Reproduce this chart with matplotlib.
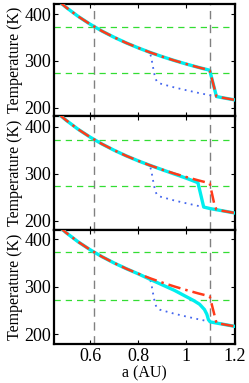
import matplotlib
matplotlib.use("Agg")
import matplotlib.pyplot as plt

plt.rcParams['font.family'] = ['Liberation Serif', 'DejaVu Serif']

# Shared branches
a_main = [0.47, 0.50, 0.55, 0.60, 0.65, 0.70, 0.75, 0.80, 0.85, 0.90, 0.95, 1.00, 1.05, 1.097]
T_main = [427.4, 414.4, 395.1, 378.3, 363.4, 350.2, 338.3, 327.6, 317.8, 308.8, 300.6, 293.0, 285.9, 279.8]
a_low = [1.125, 1.15, 1.20]
T_low = [223.6, 221.0, 216.4]

# Blue dotted (same in every panel)
a_blue = [0.47, 0.50, 0.55, 0.60, 0.65, 0.70, 0.75, 0.80, 0.848, 0.855, 0.86, 0.865, 0.87, 0.877,
          0.89, 0.90, 0.95, 1.00, 1.05, 1.10, 1.15, 1.20]
T_blue = [427.4, 414.4, 395.1, 378.3, 363.4, 350.2, 338.3, 327.6, 318.2, 305.0, 290.0, 277.0, 264.0, 256.0,
          251.5, 250.0, 243.0, 237.0, 231.3, 226.0, 221.0, 216.4]

# Panel 1
a_red1 = a_main + a_low
T_red1 = T_main + T_low
a_cyan1 = a_main + a_low
T_cyan1 = T_main + T_low

# Panel 2
a_red2 = a_main + [1.117] + a_low
T_red2 = T_main + [233.0] + T_low
a_cyan2 = [0.47, 0.50, 0.55, 0.60, 0.65, 0.70, 0.75, 0.80, 0.85, 0.90, 0.95, 1.00, 1.048, 1.072, 1.10, 1.15, 1.20]
T_cyan2 = [427.4, 414.4, 395.1, 378.3, 363.4, 350.2, 338.3, 327.6, 317.8, 308.6, 299.5, 290.5, 281.0, 229.0, 225.6, 221.0, 216.4]

# Panel 3
a_red3 = a_main + a_low
T_red3 = T_main + T_low
a_cyan3 = [0.47, 0.50, 0.55, 0.60, 0.65, 0.70, 0.75, 0.80, 0.85, 0.90, 0.95, 1.00, 1.03, 1.055, 1.075,
           1.085, 1.092, 1.10, 1.15, 1.20]
T_cyan3 = [427.4, 414.4, 395.1, 378.3, 363.4, 350.2, 338.3, 327.3, 315.5, 304.0, 292.5, 279.0, 271.0, 263.0, 252.0,
           242.0, 230.0, 225.6, 221.0, 216.4]

red_sets = [(a_red1, T_red1), (a_red2, T_red2), (a_red3, T_red3)]
cyan_sets = [(a_cyan1, T_cyan1), (a_cyan2, T_cyan2), (a_cyan3, T_cyan3)]

hlines = [373, 273]
vlines = [0.618, 1.10]
xticks = [0.6, 0.8, 1.0, 1.2]
xticklabels = ['0.6', '0.8', '1', '1.2']
yticks = [200, 300, 400]

fig = plt.figure(figsize=(2.49, 3.83), dpi=100)
W, H = 249.0, 383.0
left, right = 54 / W, 234.5 / W
bounds = [(4, 115.7), (115.7, 230), (230, 344)]
ylims = [(182.5, 421.5), (180.0, 424.0), (179.0, 420.0)]

for i, ((yt, yb), yl) in enumerate(zip(bounds, ylims)):
    ax = fig.add_axes([left, 1 - yb / H, right - left, (yb - yt) / H])
    for v in vlines:
        ax.axvline(v, color='#808080', ls=(0, (6, 4)), lw=1.0, zorder=1)
    for h in hlines:
        ax.axhline(h, color='#33dd33', ls=(0, (5, 4)), lw=0.9, zorder=1)
    ax.plot(a_blue, T_blue, color='#4466ee', ls=(0, (1, 2.5)), lw=1.3, zorder=2)
    ac, Tc = cyan_sets[i]
    ax.plot(ac, Tc, color='#00eeee', lw=2.4, zorder=3)
    ar, Tr = red_sets[i]
    ax.plot(ar, Tr, color='#ff3a1a', lw=1.8, ls=(0, (5, 2, 1, 2)), zorder=4)
    ax.set_xlim(0.45, 1.2)
    ax.set_ylim(*yl)
    ax.set_yticks(yticks)
    ax.set_xticks(xticks)
    ax.tick_params(direction='in', length=3, width=0.8, top=True, right=True, labelsize=13, pad=2)
    ax.tick_params(axis='x', pad=3)
    for s in ax.spines.values():
        s.set_linewidth(1.6)
    ax.set_ylabel('Temperature (K)', fontsize=11.5, labelpad=1)
    if i < 2:
        ax.set_xticklabels([])
    else:
        ax.set_xticklabels(xticklabels)
        ax.set_xlabel('a (AU)', fontsize=11.5, labelpad=0)

fig.savefig('out.png', dpi=100)
